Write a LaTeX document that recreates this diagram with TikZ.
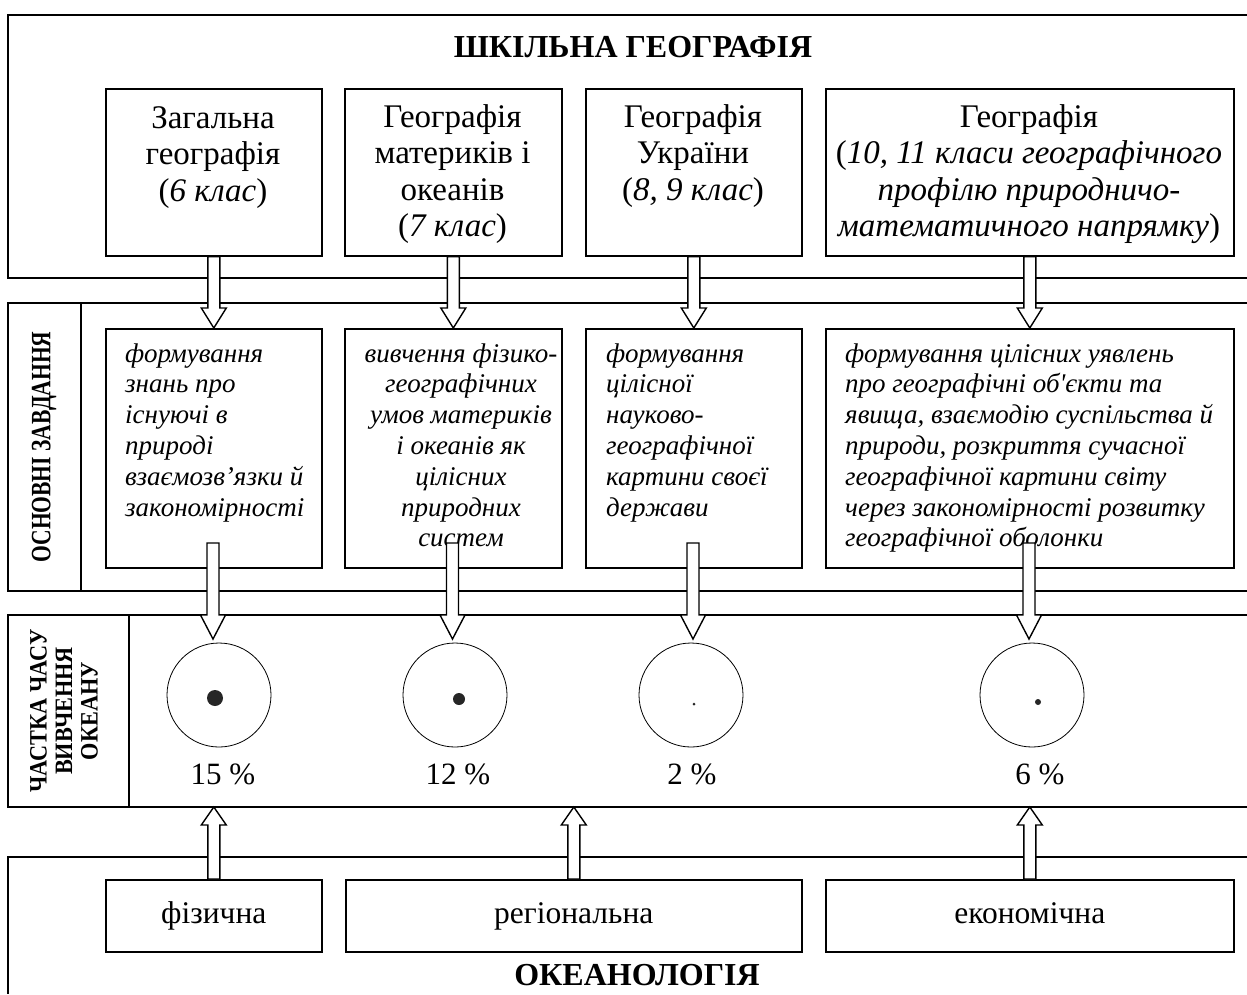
\documentclass[tikz,border=0pt]{standalone}
\usepackage{fontspec}
\setmainfont{Liberation Serif}
\usepackage{graphicx}
\usetikzlibrary{calc}

\tikzset{
  box/.style={draw, line width=1.6pt, rectangle, inner sep=0pt, anchor=north west},
  band/.style={line width=1.6pt},
  blk/.style={draw, fill=white, line width=1.4pt, line join=miter},
  ring/.style={draw, circle, line width=0.8pt, minimum size=104pt, inner sep=0pt},
  dotn/.style={circle, fill=black!85, inner sep=0pt},
  toptxt/.style={font=\fontsize{33}{36.5}\selectfont, align=center, anchor=base, inner sep=0pt},
  midtxt/.style={font=\fontsize{27}{30.8}\selectfont\itshape, anchor=base west, align=left, inner sep=0pt},
  midctr/.style={font=\fontsize{27}{30.8}\selectfont\itshape, anchor=base, align=center, inner sep=0pt},
  pct/.style={font=\fontsize{31}{36}\selectfont, anchor=base, inner sep=0pt},
  ttl/.style={font=\bfseries\fontsize{32}{36}\selectfont, anchor=base, inner sep=0pt},
  btxt/.style={font=\fontsize{31.5}{36}\selectfont, text height=22pt, text depth=7pt},
}

\newcommand\blkdown[3]{\draw[blk] let \p1=(#1), \p2=(#2) in
  (\x1-6pt,\y1) -- (\x1-6pt,\y2+#3pt) -- (\x1-12.5pt,\y2+#3pt) -- (\x1,\y2)
  -- (\x1+12.5pt,\y2+#3pt) -- (\x1+6pt,\y2+#3pt) -- (\x1+6pt,\y1) -- cycle;}
\newcommand\blkup[3]{\draw[blk] let \p1=(#1), \p2=(#2) in
  (\x1-6pt,\y1) -- (\x1-6pt,\y2-#3pt) -- (\x1-12.5pt,\y2-#3pt) -- (\x1,\y2)
  -- (\x1+12.5pt,\y2-#3pt) -- (\x1+6pt,\y2-#3pt) -- (\x1+6pt,\y1) -- cycle;}

\begin{document}
\begin{tikzpicture}[x=1pt,y=-1pt]
\useasboundingbox (0,0) rectangle (1247,994);

% bands
\draw[band] (1247,15) -- (8,15) -- (8,278) -- (1247,278);
\draw[band] (1247,303) -- (8,303) -- (8,591) -- (1247,591);
\draw[band] (81,303) -- (81,591);
\draw[band] (1247,615) -- (8,615) -- (8,807) -- (1247,807);
\draw[band] (129,615) -- (129,807);
\draw[band] (1247,857) -- (8,857) -- (8,994);

% titles
\node[ttl] (title) at (633,57) {ШКІЛЬНА ГЕОГРАФІЯ};
\node[ttl] (ocean) at (637,985) {ОКЕАНОЛОГІЯ};

% vertical labels
\node[rotate=90, font=\bfseries\fontsize{28}{28}\selectfont, inner sep=0pt] (lab1) at (44,447)
  {\scalebox{0.77}[1]{ОСНОВНІ ЗАВДАННЯ}};
\node[rotate=90, font=\bfseries\fontsize{25}{25.5}\selectfont, inner sep=0pt] (lab2) at (67,711)
  {\scalebox{0.89}[1]{\begin{tabular}{@{}c@{}}ЧАСТКА ЧАСУ\\ВИВЧЕННЯ\\ОКЕАНУ\end{tabular}}};

% top boxes
\node[box, minimum width=216pt, minimum height=167pt] (t1) at (105,88) {};
\node[box, minimum width=217pt, minimum height=167pt] (t2) at (344,88) {};
\node[box, minimum width=216pt, minimum height=167pt] (t3) at (585,88) {};
\node[box, minimum width=408pt, minimum height=167pt] (t4) at (825,88) {};
\node[toptxt] (tt1) at (213,201) {Загальна\\географія\\(\textit{6 клас})};
\node[toptxt] (tt2) at (452.5,236.5) {Географія\\материків і\\океанів\\(\textit{7 клас})};
\node[toptxt] (tt3) at (693,200) {Географія\\України\\(\textit{8, 9 клас})};
\node[toptxt] (tt4) at (1029,236.5) {Географія\\(\textit{10, 11 класи географічного}\\\textit{профілю природничо-}\\\textit{математичного напрямку})};

% middle boxes
\node[box, minimum width=216pt, minimum height=239pt] (m1) at (105,328) {};
\node[box, minimum width=217pt, minimum height=239pt] (m2) at (344,328) {};
\node[box, minimum width=216pt, minimum height=239pt] (m3) at (585,328) {};
\node[box, minimum width=408pt, minimum height=239pt] (m4) at (825,328) {};
\node[midtxt] (mt1) at (125,516) {формування\\знань про\\існуючі в\\природі\\взаємозв’язки й\\закономірності};
\node[midctr] (mt2) at (461,546.8) {вивчення фізико-\\географічних\\умов материків\\і океанів як\\цілісних\\природних\\систем};
\node[midtxt] (mt3) at (606,516) {формування\\цілісної\\науково-\\географічної\\картини своєї\\держави};
\node[midtxt] (mt4) at (845,546.8) {формування цілісних уявлень\\про географічні об\textquotesingle єкти та\\явища, взаємодію суспільства й\\природи, розкриття сучасної\\географічної картини світу\\через закономірності розвитку\\географічної оболонки};

% circles
\node[ring] (c1) at (219,695) {};
\node[ring] (c2) at (455,695) {};
\node[ring] (c3) at (691,695) {};
\node[ring] (c4) at (1032,695) {};
\node[dotn, minimum size=16pt] (d1) at (215,698) {};
\node[dotn, minimum size=12pt] (d2) at (459,699) {};
\node[dotn, minimum size=3pt] (d3) at (694,704) {};
\node[dotn, minimum size=6pt] (d4) at (1038,702) {};
\node[pct] (p1) at (223,784) {15 \%};
\node[pct] (p2) at (458,784) {12 \%};
\node[pct] (p3) at (692,784) {2 \%};
\node[pct] (p4) at (1040,784) {6 \%};

% bottom boxes
\node[box, btxt, minimum width=216pt, minimum height=72pt] (b1) at (105,879) {фізична};
\node[box, btxt, minimum width=456pt, minimum height=72pt] (b2) at (345,879) {регіональна};
\node[box, btxt, minimum width=408pt, minimum height=72pt] (b3) at (825,879) {економічна};

% coordinates for arrow ends
\coordinate (s1) at (213,543);   \coordinate (e1) at (213,639);
\coordinate (s2) at (452.5,543); \coordinate (e2) at (452.5,639);
\coordinate (s3) at (693,543);   \coordinate (e3) at (693,639);
\coordinate (s4) at (1029,543);  \coordinate (e4) at (1029,639);
\coordinate (u1) at (213,807);
\coordinate (u2) at (573,807);
\coordinate (u3) at (1029,807);

% arrows
\blkdown{t1.south}{m1.north}{20}
\blkdown{t2.south}{m2.north}{20}
\blkdown{t3.south}{m3.north}{20}
\blkdown{t4.south}{m4.north}{20}
\blkdown{s1}{e1}{24}
\blkdown{s2}{e2}{24}
\blkdown{s3}{e3}{24}
\blkdown{s4}{e4}{24}
\blkup{b1.north}{u1}{18}
\blkup{b2.north}{u2}{18}
\blkup{b3.north}{u3}{18}
\end{tikzpicture}
\end{document}
